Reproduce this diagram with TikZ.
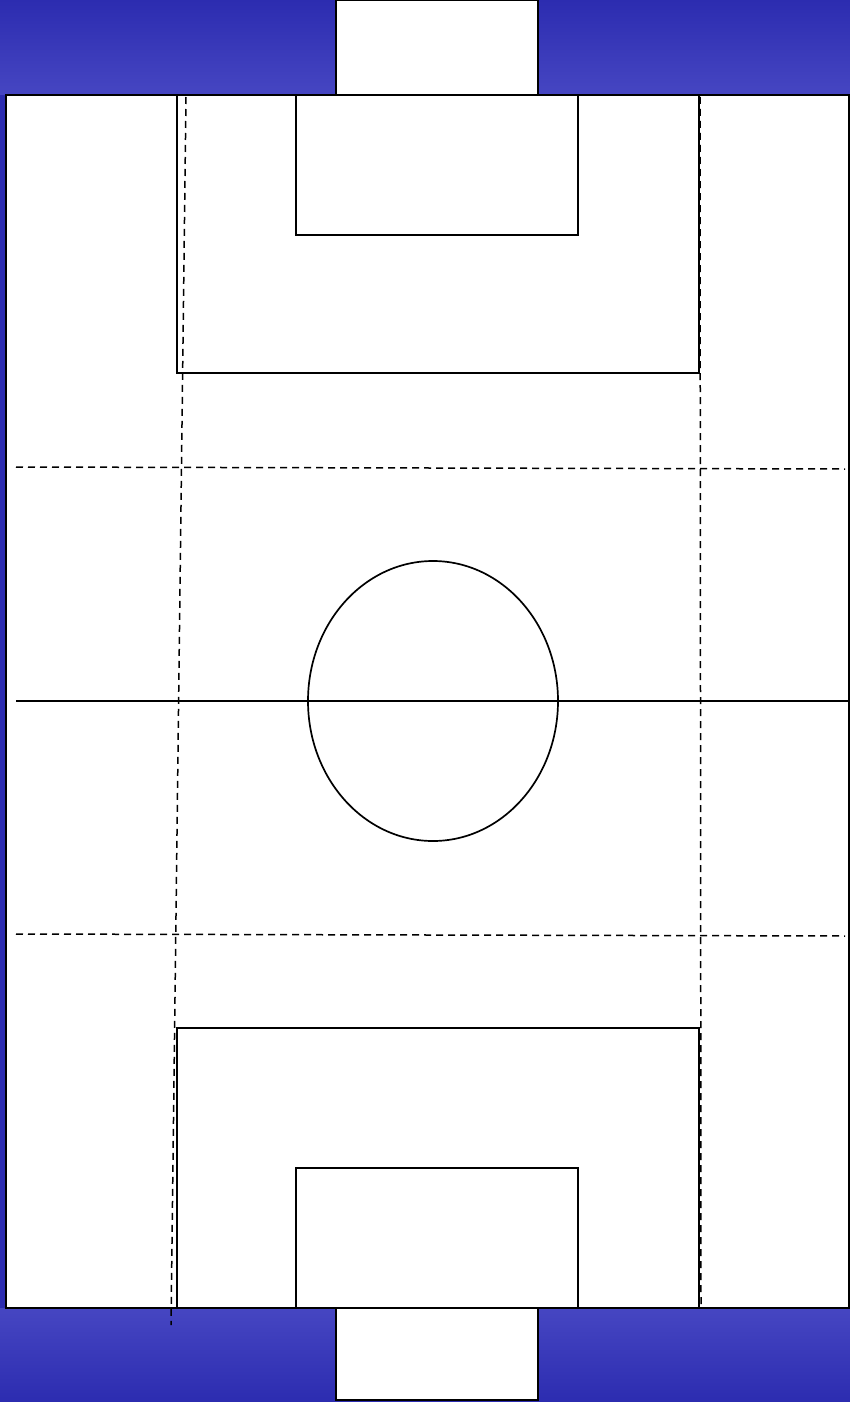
\documentclass[tikz,border=0pt]{standalone}
\usepackage{tikz}
\definecolor{pitchblue}{RGB}{44,44,176}
\definecolor{pitchblue light}{RGB}{70,70,194}

\begin{document}
\begin{tikzpicture}[
  x=1pt,y=-1pt,
  line/.style={draw=black,line width=1.7pt},
  area/.style={line,fill=white},
  guide/.style={draw=black,line width=1.5pt,dash pattern=on 7pt off 5pt}
]
% background
\useasboundingbox (0,0) rectangle (850,1402);
\shade[top color=pitchblue,bottom color=pitchblue light] (0,0) rectangle (850,95);
\shade[top color=pitchblue light,bottom color=pitchblue] (0,1308) rectangle (850,1402);
\fill[pitchblue] (0,95) rectangle (6,1308);
% goals
\draw[area] (336,0) rectangle (538,95);
\draw[area] (336,1308) rectangle (538,1400);
% pitch
\draw[area] (6,95) rectangle (849,1308);
\draw[line] (177,95) rectangle (699,373);
\draw[line] (296,95) rectangle (578,235);
\draw[line] (177,1028) rectangle (699,1308);
\draw[line] (296,1168) rectangle (578,1308);
\draw[line] (16,701) -- (849,701);
\draw[line] (433,701) ellipse [x radius=125,y radius=140];
% zone lines
\draw[guide] (16,467) -- (845,469);
\draw[guide] (16,934) -- (845,936);
\draw[guide] (186,97) -- (171,1325);
\draw[guide] (700,97) -- (701,1308);
\end{tikzpicture}
\end{document}
